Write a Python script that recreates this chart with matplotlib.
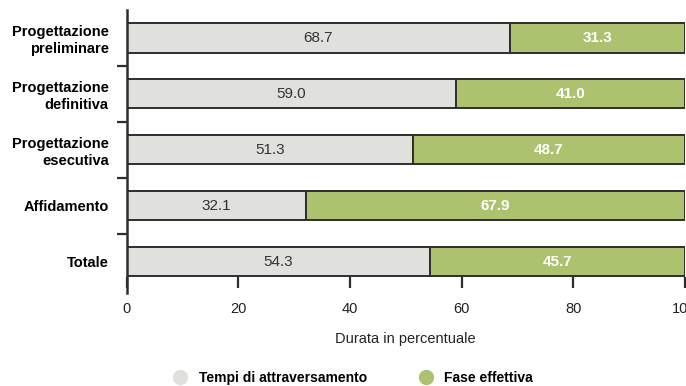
import numpy as np
import matplotlib.pyplot as plt
from matplotlib.lines import Line2D

plt.rcParams['font.family'] = ['Liberation Sans', 'DejaVu Sans']

categorie = ["Progettazione\npreliminare", "Progettazione\ndefinitiva",
             "Progettazione\nesecutiva", "Affidamento", "Totale"]
attraversamento = [68.7, 59.0, 51.3, 32.1, 54.3]
fase_effettiva = [31.3, 41.0, 48.7, 67.9, 45.7]

grigio = "#e0e0dc"
verde = "#adc26e"
bordo = "#2e2e2e"

fig = plt.figure(figsize=(6.86, 3.86), dpi=100)
ax = fig.add_axes([0.185, 0.241, 0.813, 0.733])

y = np.arange(len(categorie))
h = 0.52
ax.barh(y, attraversamento, height=h, color=grigio, edgecolor=bordo, linewidth=1.4)
ax.barh(y, fase_effettiva, left=attraversamento, height=h, color=verde,
        edgecolor=bordo, linewidth=1.4)

for i in range(len(categorie)):
    a = attraversamento[i]
    f = fase_effettiva[i]
    ax.text(a / 2, i, f"{a:.1f}", ha="center", va="center", fontsize=11, color="#333333")
    ax.text(a + f / 2, i, f"{f:.1f}", ha="center", va="center", fontsize=11,
            color="white", fontweight="bold")

ax.set_xlim(0, 100)
ax.set_ylim(4.56, -0.5)

ax.set_yticks(y)
ax.set_yticklabels(categorie, fontsize=10.5, fontweight="bold", ha="right",
                   linespacing=1.25)
ax.tick_params(axis="y", which="major", length=0, pad=13)
ax.set_yticks(y[:-1] + 0.5, minor=True)
ax.tick_params(axis="y", which="minor", length=7, width=1.6, color=bordo)

ax.set_xticks([0, 20, 40, 60, 80, 100])
ax.tick_params(axis="x", length=8, width=1.6, color=bordo, labelsize=10.5,
               labelcolor="#222222", pad=10)
ax.set_xlabel("Durata in percentuale", fontsize=10.5, color="#222222", labelpad=11)

for s in ["top", "right"]:
    ax.spines[s].set_visible(False)
ax.spines["bottom"].set_position(("data", 4.28))
ax.spines["bottom"].set_visible(False)
ax.spines["left"].set_linewidth(1.8)
ax.spines["left"].set_color(bordo)

handles = [
    Line2D([], [], marker="o", linestyle="", markersize=10, color=grigio),
    Line2D([], [], marker="o", linestyle="", markersize=10, color=verde),
]
fig.legend(handles, ["Tempi di attraversamento", "Fase effettiva"],
           loc="center", bbox_to_anchor=(0.51, 0.022), ncol=2, frameon=False,
           prop={"weight": "bold", "size": 10}, columnspacing=3.3, handletextpad=0.3)

fig.savefig("out.png", dpi=100)
